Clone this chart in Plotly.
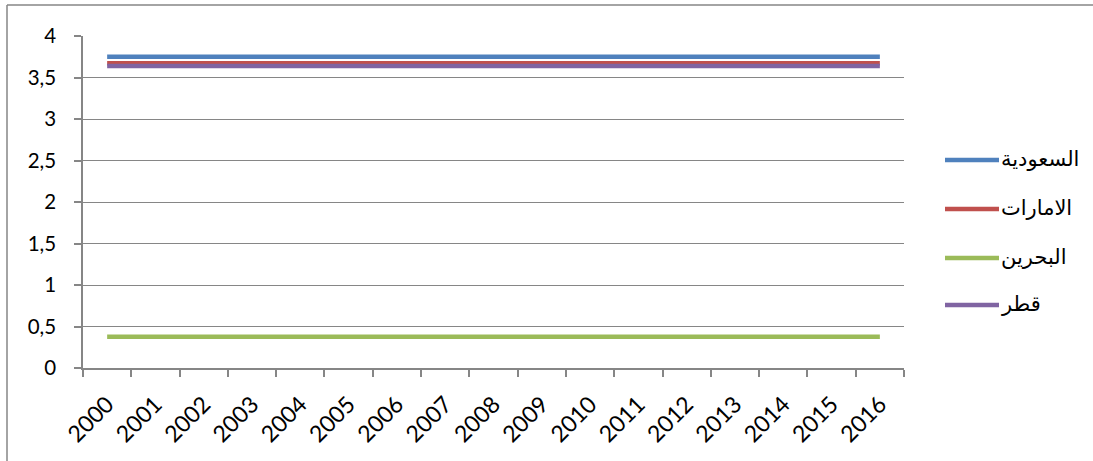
import plotly.graph_objects as go

years = [str(y) for y in range(2000, 2017)]
saudi = [3.75] * 17
uae = [3.6725] * 17
bahrain = [0.376] * 17
qatar = [3.64] * 17

names = ["السعودية", "الامارات", "البحرين", "قطر"]
colors = ["#4F81BD", "#C0504D", "#9BBB59", "#8064A2"]
series = [saudi, uae, bahrain, qatar]

fig = go.Figure()
for i, (n, c, s) in enumerate(zip(names, colors, series)):
    fig.add_trace(go.Scatter(x=years, y=s, name=n, mode="lines",
                             line=dict(color=c, width=4.5),
                             showlegend=False))

L, R, T, B = 83, 904, 36, 368
W, H = 1093, 461
pw, ph = R - L, B - T

def px(x):
    return (x - L) / pw

def py(y):
    return (B - y) / ph

shapes = [
    dict(type="line", xref="paper", yref="paper",
         x0=px(7), x1=px(W + 5), y0=py(5), y1=py(5),
         line=dict(color="#868686", width=1.5)),
    dict(type="line", xref="paper", yref="paper",
         x0=px(7), x1=px(7), y0=py(5), y1=py(H + 5),
         line=dict(color="#868686", width=1.5)),
]
annotations = []
leg_y = [160, 209, 258, 305]
for n, c, yy in zip(names, colors, leg_y):
    shapes.append(dict(type="line", xref="paper", yref="paper",
                       x0=px(945), x1=px(999), y0=py(yy), y1=py(yy),
                       line=dict(color=c, width=4.5)))
    annotations.append(dict(xref="paper", yref="paper", x=px(999), y=py(yy - 1),
                            text=n, showarrow=False, xanchor="left",
                            yanchor="middle",
                            font=dict(family="DejaVu Sans, sans-serif",
                                      size=21, color="#000")))

fig.update_layout(
    width=W, height=H,
    margin=dict(l=L, r=W - R, t=T, b=H - B),
    plot_bgcolor="white", paper_bgcolor="white",
    separators=", ",
    showlegend=False,
    font=dict(family="Lato, Liberation Sans, sans-serif", size=22, color="#000"),
    xaxis=dict(type="category", tickangle=-45, showgrid=False,
               range=[-0.5, 16.5], automargin=False,
               showline=True, linecolor="#868686", linewidth=1.5,
               ticks="outside", tickson="boundaries", ticklen=7,
               tickcolor="#868686", tickwidth=1.5,
               ticklabelstandoff=12,
               tickfont=dict(size=23)),
    yaxis=dict(range=[0, 4], dtick=0.5, showgrid=True, gridcolor="#868686",
               gridwidth=1.2, showline=True, linecolor="#868686", linewidth=1.5,
               automargin=False,
               ticks="outside", ticklen=7, tickcolor="#868686", tickwidth=1.5,
               ticklabelstandoff=14,
               zeroline=False, tickfont=dict(size=20.5)),
    shapes=shapes,
    annotations=annotations,
)

fig.write_html("out.html")
